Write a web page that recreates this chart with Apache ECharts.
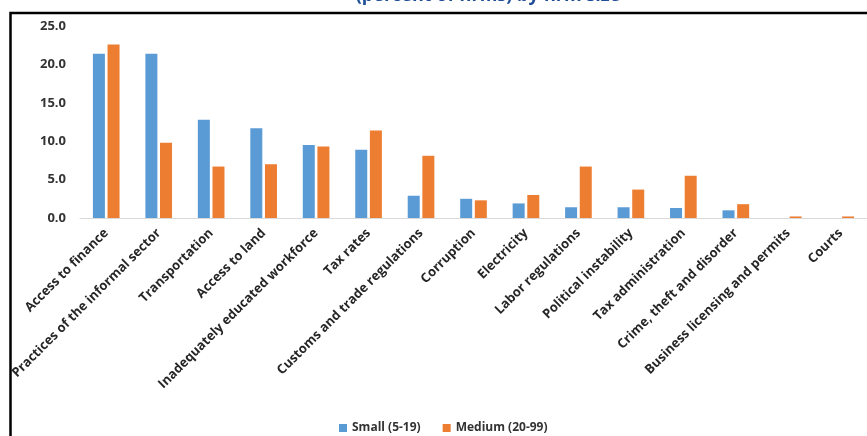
<!DOCTYPE html>
<html>
<head>
<meta charset="utf-8">
<script src="https://cdn.jsdelivr.net/npm/echarts@6/dist/echarts.min.js"></script>
<style>
  html, body { margin: 0; padding: 0; background: #fff; }
  #chart { width: 867px; height: 436px; }
</style>
</head>
<body>
<div id="chart"></div>
<script>
// Main constraints reported by firms, by firm size (percent of firms)
const categories = [
  'Access to finance',
  'Practices of the informal sector',
  'Transportation',
  'Access to land',
  'Inadequately educated workforce',
  'Tax rates',
  'Customs and trade regulations',
  'Corruption',
  'Electricity',
  'Labor regulations',
  'Political instability',
  'Tax administration',
  'Crime, theft and disorder',
  'Business licensing and permits',
  'Courts'
];
const smallFirms  = [21.4, 21.4, 12.8, 11.7, 9.5, 8.9, 2.9, 2.5, 1.9, 1.4, 1.4, 1.3, 1.0, 0, 0];
const mediumFirms = [22.6, 9.8, 6.7, 7.0, 9.3, 11.4, 8.1, 2.3, 3.0, 6.7, 3.7, 5.5, 1.8, 0.2, 0.2];
const yTicks = { min: 0, max: 25, interval: 5 };

const chart = echarts.init(document.getElementById('chart'), null, { renderer: 'canvas' });

const labelFont = '"Open Sans", "Noto Sans", sans-serif';

chart.setOption({
  animation: false,
  backgroundColor: '#ffffff',
  title: {
    text: '(percent of firms) by firm size',
    left: 483,
    top: -18,
    textAlign: 'center',
    textStyle: {
      color: '#1f4e96',
      fontFamily: labelFont,
      fontWeight: 'bold',
      fontSize: 18
    }
  },
  graphic: [{
    type: 'rect',
    silent: true,
    shape: { x: 10.5, y: 13, width: 1000, height: 1000 },
    style: { fill: 'none', stroke: '#000', lineWidth: 2.5 }
  }],
  legend: {
    bottom: -3,
    left: 334,
    itemWidth: 8,
    itemHeight: 8,
    itemGap: 22,
    icon: 'rect',
    textStyle: {
      color: '#333',
      fontFamily: labelFont,
      fontWeight: 'bold',
      fontSize: 12
    },
    data: ['Small (5-19)', 'Medium (20-99)']
  },
  grid: {
    left: 80,
    top: 26,
    width: 793,
    bottom: 218,
    containLabel: false
  },
  xAxis: {
    type: 'category',
    data: categories,
    axisLine: { lineStyle: { color: '#d9d9d9', width: 1 } },
    axisTick: { show: false },
    axisLabel: {
      interval: 0,
      rotate: 45,
      margin: 13,
      color: '#262626',
      fontFamily: labelFont,
      fontWeight: 'bold',
      fontSize: 13
    }
  },
  yAxis: {
    type: 'value',
    min: yTicks.min,
    max: yTicks.max,
    interval: yTicks.interval,
    axisLine: { show: false },
    axisTick: { show: false },
    splitLine: { show: false },
    axisLabel: {
      margin: 14,
      color: '#333',
      fontFamily: labelFont,
      fontWeight: 'bold',
      fontSize: 13,
      formatter: v => v.toFixed(1)
    }
  },
  series: [
    {
      name: 'Small (5-19)',
      type: 'bar',
      data: smallFirms,
      barWidth: 12,
      barGap: '22%',
      itemStyle: { color: '#5b9bd5' }
    },
    {
      name: 'Medium (20-99)',
      type: 'bar',
      data: mediumFirms,
      barWidth: 12,
      barGap: '22%',
      itemStyle: { color: '#ed7d31' }
    }
  ]
});
</script>
</body>
</html>
